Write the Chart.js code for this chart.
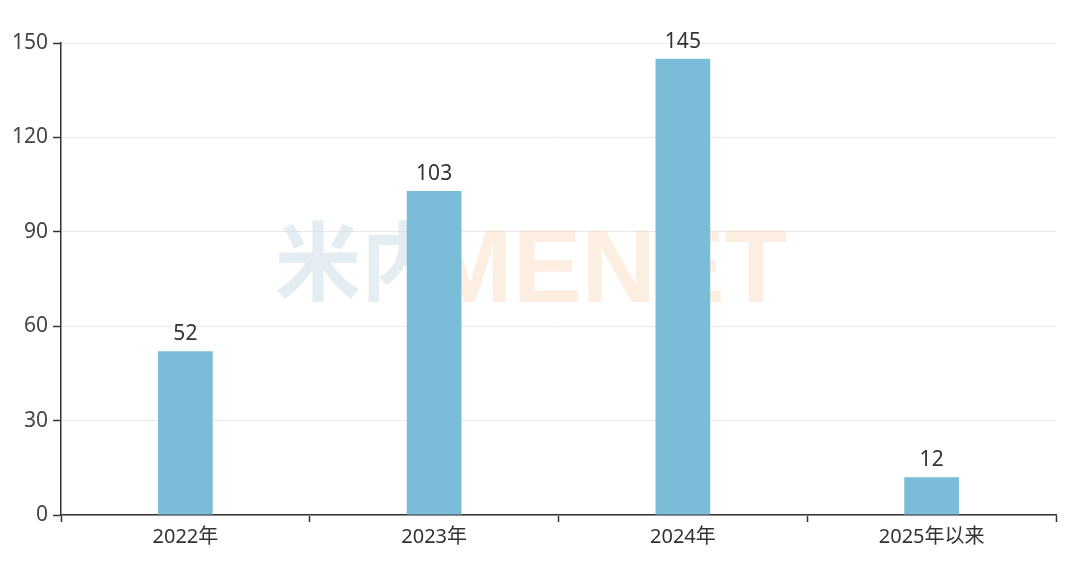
<!DOCTYPE html>
<html>
<head>
<meta charset="utf-8">
<script src="https://cdn.jsdelivr.net/npm/chart.js@4/dist/chart.umd.min.js"></script>
<style>
html,body{margin:0;padding:0;background:#fff;}
#wrap{width:1080px;height:571px;position:relative;}
</style>
</head>
<body>
<div id="wrap"><canvas id="c" width="1080" height="571"></canvas></div>
<script>
const categories = ['2022年', '2023年', '2024年', '2025年以来'];
const values = [52, 103, 145, 12];
const yTicks = [0, 30, 60, 90, 120, 150];

const FONT = '"Noto Sans", "Noto Sans CJK SC", sans-serif';

const watermark = {
  id: 'watermark',
  beforeDatasetsDraw(chart) {
    const ctx = chart.ctx, a = chart.chartArea;
    ctx.save();
    const x0 = a.left + 214;
    ctx.textBaseline = 'middle';
    ctx.fillStyle = 'rgba(205,224,232,0.55)';
    ctx.font = 'bold 86px "Noto Sans CJK SC", sans-serif';
    ctx.fillText('米内', x0, a.top + 218);
    ctx.textBaseline = 'alphabetic';
    ctx.font = 'bold 103px "Liberation Sans", Arial, sans-serif';
    ctx.fillStyle = 'rgba(250,215,185,0.42)';
    ctx.fillText('MENET', x0 + 152, a.top + 259);
    ctx.restore();
  }
};

const valueLabels = {
  id: 'valueLabels',
  afterDatasetsDraw(chart) {
    const ctx = chart.ctx;
    ctx.save();
    ctx.font = '21px ' + FONT;
    ctx.fillStyle = '#333';
    ctx.textAlign = 'center';
    ctx.textBaseline = 'alphabetic';
    chart.getDatasetMeta(0).data.forEach((el, i) => {
      ctx.fillText(String(values[i]), el.x, el.y - 11);
    });
    ctx.restore();
  }
};

new Chart(document.getElementById('c'), {
  type: 'bar',
  data: {
    labels: categories,
    datasets: [{
      data: values,
      backgroundColor: '#7bbdd9',
      categoryPercentage: 1,
      barPercentage: 0.22
    }]
  },
  options: {
    responsive: false,
    animation: false,
    layout: { padding: { top: 43, right: 24, left: 0, bottom: 0 } },
    plugins: { legend: { display: false }, tooltip: { enabled: false } },
    scales: {
      x: {
        grid: { display: true, offset: true, drawOnChartArea: false, drawTicks: true, tickLength: 7, tickColor: '#333', tickWidth: 1.5 },
        border: { color: '#333', width: 1.5 },
        ticks: { color: '#333', font: { size: 20, family: FONT }, padding: 3 },
        afterFit(scale) { scale.height = 56; }
      },
      y: {
        min: 0, max: 150,
        afterBuildTicks(scale) { scale.ticks = yTicks.map(v => ({ value: v })); },
        grid: { color: '#e9e9e9', lineWidth: 1, drawTicks: true, tickLength: 8, tickColor: '#333', tickWidth: 1.5 },
        border: { color: '#333', width: 1.5 },
        ticks: { color: '#444', font: { size: 21, family: FONT }, padding: 5 },
        afterFit(scale) { scale.width = 61; }
      }
    }
  },
  plugins: [watermark, valueLabels]
});
</script>
</body>
</html>
